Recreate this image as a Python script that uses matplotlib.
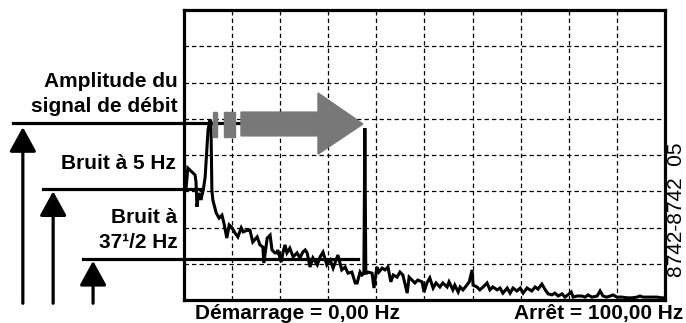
import matplotlib.pyplot as plt
import matplotlib.transforms as mtransforms
from matplotlib.patches import Polygon, Rectangle

plt.rcParams['font.family'] = ['Liberation Sans', 'DejaVu Sans']

# spectrum: frequency (Hz) and level (grid divisions)
freq = [0.0, 0.4, 0.8, 2.3, 2.5, 2.7, 2.9, 3.3, 3.5, 4.0, 4.4, 5.0, 5.4, 5.6, 5.8, 6.0,
        6.7, 7.3, 7.9, 8.3, 8.9, 9.4, 10.0, 10.6, 11.2, 11.9, 12.3, 13.3, 13.7, 14.3,
        15.2, 15.8, 16.4, 16.6, 17.3, 17.9, 18.3, 18.9, 19.3, 19.5, 20.2, 20.6, 21.0,
        21.4, 22.0, 22.7, 23.5, 24.1, 24.7, 25.2, 25.6, 26.2, 26.8, 27.7, 28.3, 28.9,
        29.7, 30.4, 31.0, 32.0, 32.8, 33.5, 34.1, 34.9, 35.6, 36.0, 36.6, 37.0, 37.4,
        37.6, 37.8, 38.0, 38.3, 39.1, 39.5, 40.1, 40.5, 41.2, 41.8, 42.4, 43.0, 43.5,
        44.3, 44.9, 45.5, 46.4, 46.8, 47.4, 48.0, 48.6, 49.5, 49.9, 50.5, 51.1, 51.8,
        52.4, 53.2, 53.8, 54.7, 55.1, 55.9, 56.3, 57.0, 57.4, 58.0, 58.8, 59.3, 59.9,
        60.1, 60.9, 61.5, 62.2, 63.0, 63.6, 64.2, 65.1, 65.7, 66.3, 67.2, 67.8, 68.4,
        69.2, 69.9, 70.5, 71.3, 72.3, 73.0, 73.6, 74.4, 75.1, 75.7, 76.5, 77.1, 77.8,
        78.6, 79.2, 79.8, 80.5, 80.9, 81.7, 82.7, 83.4, 84.0, 84.8, 85.9, 86.5, 87.1,
        87.9, 88.6, 89.2, 90.0, 91.1, 92.1, 93.1, 94.2, 94.8, 95.4, 96.9, 98.3, 99.4,
        100.0]
level = [3.17, 3.03, 3.64, 3.45, 3.26, 2.57, 2.81, 2.95, 2.76, 3.03, 3.39, 4.69, 4.97,
         4.91, 3.03, 2.76, 2.40, 2.26, 2.34, 2.12, 1.71, 2.07, 1.99, 1.85, 1.74, 1.99,
         1.88, 1.93, 1.93, 1.60, 1.74, 1.52, 1.46, 1.02, 1.71, 1.79, 1.38, 1.30, 1.30,
         1.38, 1.05, 1.32, 1.52, 1.30, 1.43, 1.19, 1.30, 1.16, 1.32, 1.38, 1.30, 0.91,
         1.16, 0.97, 1.19, 1.32, 0.97, 1.10, 0.88, 1.24, 0.83, 0.91, 0.74, 0.77, 0.47,
         0.47, 0.77, 0.69, 0.74, 4.74, 0.74, 0.74, 0.77, 0.74, 0.33, 0.91, 0.77, 0.88,
         0.83, 0.91, 0.50, 0.69, 0.63, 0.77, 0.69, 0.19, 0.63, 0.55, 0.47, 0.55, 0.50,
         0.22, 0.47, 0.61, 0.33, 0.47, 0.36, 0.47, 0.36, 0.50, 0.28, 0.41, 0.22, 0.36,
         0.28, 0.41, 0.50, 0.83, 0.41, 0.36, 0.28, 0.36, 0.47, 0.28, 0.36, 0.28, 0.33,
         0.19, 0.33, 0.19, 0.33, 0.25, 0.33, 0.19, 0.33, 0.25, 0.36, 0.30, 0.44, 0.28,
         0.17, 0.14, 0.19, 0.11, 0.17, 0.08, 0.14, 0.22, 0.08, 0.11, 0.11, 0.08, 0.14,
         0.08, 0.11, 0.25, 0.11, 0.08, 0.11, 0.14, 0.08, 0.08, 0.06, 0.06, 0.08, 0.11,
         0.08, 0.08, 0.08, 0.06, 0.06]

# reference levels: flow signal, 5 Hz noise, 37.5 Hz noise
ref_levels = [4.88, 3.05, 1.13]
ref_x0 = [-0.355, -0.293, -0.21]   # axes fraction, left end of each line
ref_x1 = [0.12, 0.037, 0.362]
arrow_x = [-0.335, -0.272, -0.189]
arrow_tip = [4.77, 3.0, 1.08]

fig = plt.figure(figsize=(6.86, 3.23), dpi=100)
ax = fig.add_axes([0.2682, 0.0712, 0.7012, 0.8978])
ax.set_xlim(0, 100)
ax.set_ylim(0, 8)
ax.set_xticks(range(0, 101, 10))
ax.set_yticks(range(0, 9))
ax.tick_params(length=0, labelbottom=False, labelleft=False)
ax.grid(True, color='black', linestyle=(0, (3.5, 2.5)), linewidth=0.9)
for s in ax.spines.values():
    s.set_linewidth(2.3)

ax.plot(freq, level, color='black', lw=2.2, solid_joinstyle='miter', zorder=3)

blend = mtransforms.blended_transform_factory(ax.transAxes, ax.transData)
for y, x0, x1 in zip(ref_levels, ref_x0, ref_x1):
    ax.plot([x0, x1], [y, y], color='black', lw=2.3, transform=blend, clip_on=False, zorder=4)
for x, tip in zip(arrow_x, arrow_tip):
    ax.annotate('', xy=(x, tip), xytext=(x, -0.09), xycoords=blend, textcoords=blend,
                arrowprops=dict(arrowstyle='-|>,head_length=1.0,head_width=0.55',
                                mutation_scale=15, color='black', lw=2.3,
                                shrinkA=0, shrinkB=0))

# grey sweep arrow
grey = '#787878'
ax.add_patch(Rectangle((0.060, 0.562), 0.009, 0.086, transform=ax.transAxes,
                       color=grey, clip_on=False, zorder=5))
ax.add_patch(Rectangle((0.083, 0.562), 0.023, 0.086, transform=ax.transAxes,
                       color=grey, clip_on=False, zorder=5))
ax.add_patch(Polygon([(0.1185, 0.566), (0.2786, 0.566), (0.2786, 0.503), (0.372, 0.607),
                      (0.2786, 0.714), (0.2786, 0.648), (0.1185, 0.648)],
                     closed=True, transform=ax.transAxes, color=grey, clip_on=False, zorder=5))

lab = dict(transform=ax.transAxes, fontsize=15, fontweight='bold', ha='right', va='center')
ax.text(-0.0125, 0.752, 'Amplitude du', **lab)
ax.text(-0.0125, 0.666, 'signal de débit', **lab)
ax.text(-0.017, 0.469, 'Bruit à 5 Hz', **lab)
ax.text(-0.013, 0.286, 'Bruit à', **lab)
ax.text(-0.013, 0.197, '37¹/2 Hz', **lab)

ax.text(0.023, -0.045, 'Démarrage = 0,00 Hz', transform=ax.transAxes, fontsize=15,
        fontweight='bold', ha='left', va='center')
ax.text(1.037, -0.045, 'Arrêt = 100,00 Hz', transform=ax.transAxes, fontsize=15,
        fontweight='bold', ha='right', va='center')
ax.text(1.023, 0.31, '8742-8742  05', transform=ax.transAxes, fontsize=15,
        rotation=90, ha='center', va='center')

fig.savefig('out.png', dpi=100)
